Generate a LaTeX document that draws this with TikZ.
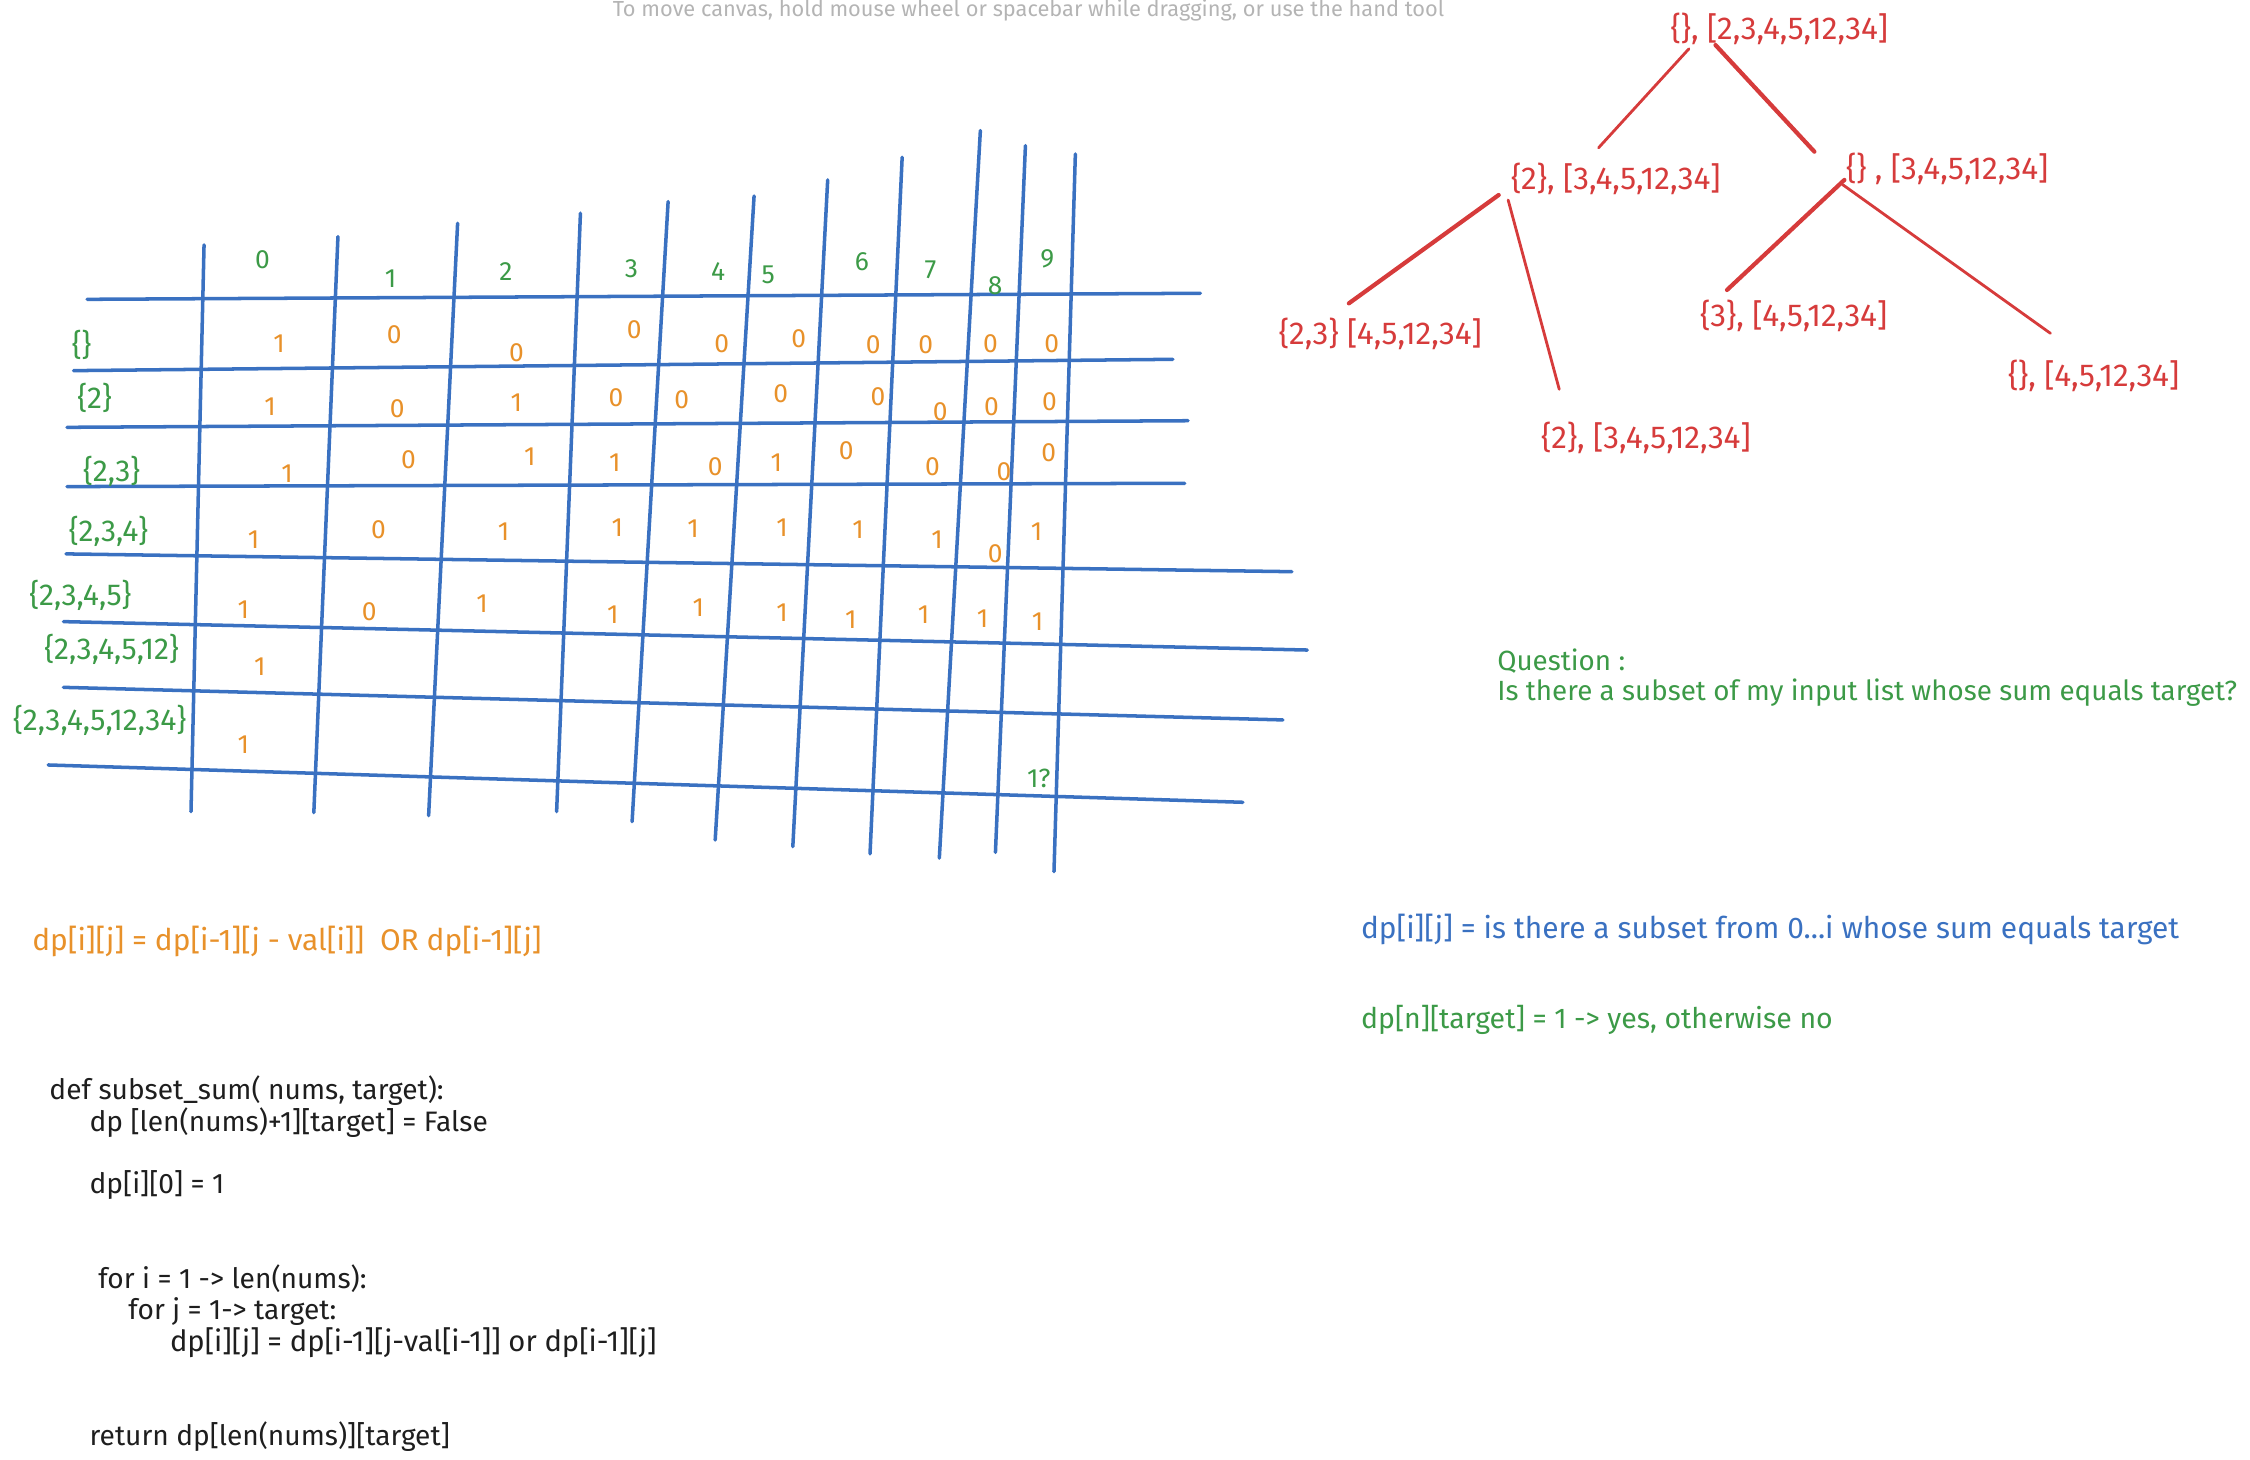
\documentclass[tikz,border=0pt]{standalone}
\usepackage{fontspec}
\setmainfont{Fira Sans}
\usetikzlibrary{calc}
\definecolor{gridblue}{HTML}{3A71C1}
\definecolor{labgreen}{HTML}{3C9A47}
\definecolor{cellorange}{HTML}{E8912A}
\definecolor{treered}{HTML}{D63B3B}
\definecolor{inkblack}{HTML}{1E1E1E}
\definecolor{hintgray}{HTML}{B4B4B4}

\begin{document}
\begin{tikzpicture}[x=0.01435cm,y=-0.01435cm,line cap=round,
grid line/.style={gridblue,line width=1pt},
cell/.style={text=cellorange,inner sep=0,font=\fontsize{7.5}{9}\selectfont},
head/.style={text=labgreen,inner sep=0,font=\fontsize{7.5}{9}\selectfont},
set label/.style={head,font=\fontsize{8.6}{10}\selectfont},
tree node/.style={text=treered,inner sep=0,font=\fontsize{9}{11}\selectfont},
tree edge/.style={treered,line width=.8pt},
thick edge/.style={tree edge,line width=1.2pt},
note/.style={anchor=west,inner sep=0,font=\fontsize{8}{10}\selectfont}]
\useasboundingbox (0,0) rectangle (1568,1017);
\node[text=hintgray,anchor=base,inner sep=0,font=\fontsize{6.2}{7}\selectfont] (hint) at (716.8,11.8) {To move canvas, hold mouse wheel or spacebar while dragging, or use the hand tool};

\draw[grid line] (60.7,208.6) -- (836.5,204.4);
\draw[grid line] (51.3,258.3) -- (817.3,250.4);
\draw[grid line] (46.7,297.8) -- (827.9,293.2);
\draw[grid line] (46.7,339.1) -- (825.6,336.8);
\draw[grid line] (46,386) -- (900.3,398.4);
\draw[grid line] (44.2,433.2) -- (911,453);
\draw[grid line] (44.2,479) -- (894,501.7);
\draw[grid line] (33.6,533.1) -- (866.1,559.1);
\draw[grid line] (142.2,170.7) -- (133.1,565.6);
\draw[grid line] (235.5,164.9) -- (218.7,566.3);
\draw[grid line] (318.9,155.6) -- (298.7,568.4);
\draw[grid line] (404.5,148.6) -- (387.9,565.6);
\draw[grid line] (465.6,140.5) -- (440.5,572.6);
\draw[grid line] (525.5,136.6) -- (498.4,585.4);
\draw[grid line] (576.8,125.4) -- (552.5,590);
\draw[grid line] (628.7,109.6) -- (606.3,595);
\draw[grid line] (683.2,91) -- (654.6,598);
\draw[grid line] (714.6,101.5) -- (693.7,594);
\draw[grid line] (749.4,107.3) -- (734.5,607.4);

\node[head] (h0) at (182.9,180.7) {0};
\node[head] (h1) at (272.2,194) {1};
\node[head] (h2) at (352.5,189.3) {2};
\node[head] (h3) at (440,187) {3};
\node[head] (h4) at (500.5,189.3) {4};
\node[head] (h5) at (535.4,191.6) {5};
\node[head] (h6) at (600.7,182.3) {6};
\node[head] (h7) at (648.4,187.7) {7};
\node[head] (h8) at (693.5,199) {8};
\node[head] (h9) at (729.8,180.7) {9};

\node[set label] (r0) at (56.9,240.4) {\{\}};
\node[set label] (r1) at (66,277) {\{2\}};
\node[set label] (r2) at (77.8,328.2) {\{2,3\}};
\node[set label] (r3) at (75.6,370) {\{2,3,4\}};
\node[set label] (r4) at (56,414.6) {\{2,3,4,5\}};
\node[set label] (r5) at (77.8,452.3) {\{2,3,4,5,12\}};
\node[set label] (r6) at (69.5,501.7) {\{2,3,4,5,12,34\}};

\node[cell] (c00) at (194.4,239.3) {1}; \node[cell] (c01) at (274.7,233) {0};
\node[cell] (c02) at (359.9,245.5) {0}; \node[cell] (c03) at (442,229.5) {0};
\node[cell] (c04) at (503,239.3) {0}; \node[cell] (c05) at (556.6,235.8) {0};
\node[cell] (c06) at (608.5,240.4) {0}; \node[cell] (c07) at (645.2,240) {0};
\node[cell] (c08) at (690.3,239.3) {0}; \node[cell] (c09) at (733,239.3) {0};
\node[cell] (c10) at (188.2,283.4) {1}; \node[cell] (c11) at (276.9,284.5) {0};
\node[cell] (c12) at (359.9,280.6) {1}; \node[cell] (c13) at (429.2,277.1) {0};
\node[cell] (c14) at (475,278.3) {0}; \node[cell] (c15) at (544.1,274.1) {0};
\node[cell] (c16) at (611.9,276.4) {0}; \node[cell] (c17) at (655.2,286.9) {0};
\node[cell] (c18) at (690.9,283.4) {0}; \node[cell] (c19) at (731.4,279.9) {0};
\node[cell] (c20) at (200,330.3) {1}; \node[cell] (c21) at (284.7,320.1) {0};
\node[cell] (c22) at (369.3,318.2) {1}; \node[cell] (c23) at (428.4,322.4) {1};
\node[cell] (c24) at (498.4,325.2) {0}; \node[cell] (c25) at (541,322.4) {1};
\node[cell] (c26) at (589.8,314.3) {0}; \node[cell] (c27) at (649.9,325.2) {0};
\node[cell] (c28) at (699.6,328.7) {0}; \node[cell] (c29) at (730.8,315.2) {0};
\node[cell] (c30) at (176.7,375.8) {1}; \node[cell] (c31) at (263.8,368.9) {0};
\node[cell] (c32) at (350.9,370.5) {1}; \node[cell] (c33) at (430.2,367.5) {1};
\node[cell] (c34) at (483,368.4) {1}; \node[cell] (c35) at (545,367.5) {1};
\node[cell] (c36) at (597.9,368.9) {1}; \node[cell] (c37) at (653,376.3) {1};
\node[cell] (c38) at (693.5,385.6) {0}; \node[cell] (c39) at (722.4,370.5) {1};
\node[cell] (c40) at (169.6,424.6) {1}; \node[cell] (c41) at (257.3,426.3) {0};
\node[cell] (c42) at (336,420.9) {1}; \node[cell] (c43) at (427.1,428.1) {1};
\node[cell] (c44) at (486.6,423.2) {1}; \node[cell] (c45) at (545,427) {1};
\node[cell] (c46) at (593,432) {1}; \node[cell] (c47) at (643.7,428.6) {1};
\node[cell] (c48) at (684.7,430.9) {1}; \node[cell] (c49) at (723,433.2) {1};
\node[cell] (c50) at (181.1,464.6) {1};
\node[cell] (c60) at (169.6,519.2) {1};
\node[head] (ans) at (723.9,542.4) {1?};

\node[tree node] (root) at (1240,20) {\{\}, [2,3,4,5,12,34]};
\node[tree node] (l) at (1126,125) {\{2\}, [3,4,5,12,34]};
\node[tree node] (r) at (1357,118) {\{\} , [3,4,5,12,34]};
\node[tree node] (ll) at (962,233) {\{2,3\} [4,5,12,34]};
\node[tree node] (lr) at (1147,305) {\{2\}, [3,4,5,12,34]};
\node[tree node] (rl) at (1250,220) {\{3\}, [4,5,12,34]};
\node[tree node] (rr) at (1459,262) {\{\}, [4,5,12,34]};
\draw[tree edge] ($(root)+(-63,14)$) -- ($(l)+(-12,-22)$);
\draw[thick edge] ($(root)+(-44.5,11.4)$) -- ($(r)+(-92.6,-12.3)$);
\draw[thick edge] ($(l)+(-81.6,10.9)$) -- ($(ll)+(-22,-21.6)$);
\draw[tree edge] ($(l)+(-75,14.4)$) -- ($(lr)+(-60.4,-33.7)$);
\draw[thick edge] ($(r)+(-71.7,7.4)$) -- ($(rl)+(-46.5,-17.9)$);
\draw[tree edge] ($(r)+(-72.6,10.9)$) -- ($(rr)+(-30.1,-29.7)$);

\node[note,text=labgreen,font=\fontsize{7.9}{9}\selectfont] (qhead) at (1043,460.5) {Question :};
\node[note,text=labgreen,font=\fontsize{7.9}{9}\selectfont] (qtext) at (1043,483) {Is there a subset of my input list whose sum equals target?};
\node[note,text=gridblue,font=\fontsize{8.5}{10}\selectfont] (defn) at (948,648) {dp[i][j] = is there a subset from 0...i whose sum equals target};
\node[note,text=labgreen,font=\fontsize{8.1}{10}\selectfont] (goal) at (948,711) {dp[n][target] = 1 -> yes, otherwise no};
\node[note,text=cellorange,font=\fontsize{8.5}{10}\selectfont] (rec) at (22,656) {dp[i][j] = dp[i-1][j - val[i]]\ \ OR dp[i-1][j]};

\node[note,text=inkblack] (code1) at (34,760) {def subset\_sum( nums, target):};
\node[note,text=inkblack] (code2) at (62,782) {dp [len(nums)+1][target] = False};
\node[note,text=inkblack] (code3) at (62,826) {dp[i][0] = 1};
\node[note,text=inkblack] (code4) at (68,891) {for i = 1 -> len(nums):};
\node[note,text=inkblack] (code5) at (89,914) {for j = 1-> target:};
\node[note,text=inkblack,font=\fontsize{8.3}{10}\selectfont] (code6) at (118,936) {dp[i][j] = dp[i-1][j-val[i-1]] or dp[i-1][j]};
\node[note,text=inkblack] (code7) at (62,1001) {return dp[len(nums)][target]};
\end{tikzpicture}
\end{document}
